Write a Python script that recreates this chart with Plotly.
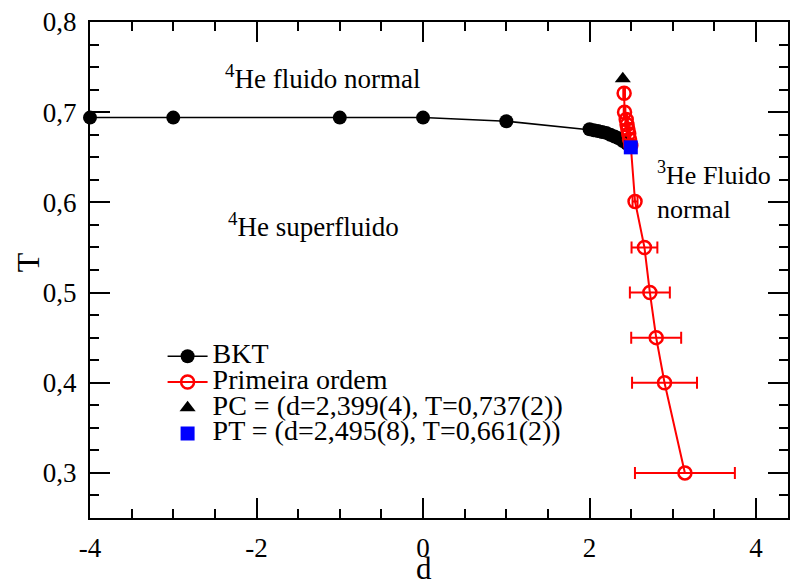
import plotly.graph_objects as go

# BKT line
bkt_d = [-4.0, -3.0, -1.0, 0.0, 1.0, 2.0, 2.05, 2.1, 2.15, 2.2, 2.25, 2.3, 2.35, 2.4, 2.45]
bkt_T = [0.694, 0.694, 0.694, 0.694, 0.690, 0.681, 0.680, 0.679, 0.678, 0.677, 0.675, 0.673, 0.671, 0.668, 0.665]

# First order line
fo_d = [2.415, 2.42, 2.44, 2.45, 2.46, 2.47, 2.48, 2.495, 2.546, 2.659, 2.724, 2.80, 2.90, 3.145]
fo_T = [0.721, 0.700, 0.692, 0.686, 0.681, 0.676, 0.670, 0.663, 0.601, 0.550, 0.500, 0.450, 0.400, 0.300]
fo_err = [0.01, 0.01, 0.01, 0.01, 0.01, 0.01, 0.01, 0.01, 0.03, 0.155, 0.24, 0.30, 0.39, 0.60]

# special points
pc_d, pc_T = [2.399], [0.737]
pt_d, pt_T = [2.495], [0.661]

x_ticks = [-4, -2, 0, 2, 4]
x_ticktext = ["-4", "-2", "0", "2", "4"]
y_ticks = [0.3, 0.4, 0.5, 0.6, 0.7, 0.8]
y_ticktext = ["0,3", "0,4", "0,5", "0,6", "0,7", "0,8"]

FONT = "Liberation Serif, Times New Roman, serif"
LEG = '<span style="font-size:28px">%s</span>'

fig = go.Figure()
fig.add_trace(go.Scatter(
    x=bkt_d, y=bkt_T, mode="lines+markers", name=LEG % "BKT",
    line=dict(color="black", width=1.5), cliponaxis=False,
    marker=dict(color="black", size=14, symbol="circle"),
))
fig.add_trace(go.Scatter(
    x=fo_d, y=fo_T, mode="lines+markers", name=LEG % "Primeira ordem",
    line=dict(color="red", width=2),
    marker=dict(color="red", size=13, symbol="circle-open", line=dict(color="red", width=2.5)),
    error_x=dict(type="data", array=fo_err, color="red", thickness=2, width=6),
))
fig.add_trace(go.Scatter(
    x=pc_d, y=pc_T, mode="markers", name=LEG % "PC = (d=2,399(4), T=0,737(2))",
    marker=dict(color="black", size=14, symbol="triangle-up"),
))
fig.add_trace(go.Scatter(
    x=pt_d, y=pt_T, mode="markers", name=LEG % "PT = (d=2,495(8), T=0,661(2))",
    marker=dict(color="#0000ff", size=14, symbol="square"),
))

axis_common = dict(
    showgrid=False, zeroline=False, showline=True, linecolor="black", linewidth=2,
    mirror="allticks", ticks="inside", ticklen=20, tickwidth=2, tickcolor="black",
    tickfont=dict(family=FONT, size=27, color="black"),
)
fig.update_xaxes(range=[-4, 4.383], tickvals=x_ticks, ticktext=x_ticktext, ticklabelstandoff=5,
                 minor=dict(dtick=0.5, ticks="inside", ticklen=9, tickwidth=2, tickcolor="black"),
                 **axis_common)
fig.update_yaxes(range=[0.25, 0.8], tickvals=y_ticks, ticktext=y_ticktext, ticklabelstandoff=6,
                 minor=dict(dtick=0.025, ticks="inside", ticklen=9, tickwidth=2, tickcolor="black"),
                 **axis_common)

annotations = [
    dict(text="<sup>4</sup>He fluido normal", x=-2.40, y=0.739, xanchor="left", yanchor="middle",
         showarrow=False, font=dict(family=FONT, size=27, color="black")),
    dict(text="<sup>4</sup>He superfluido", x=-2.37, y=0.575, xanchor="left", yanchor="middle",
         showarrow=False, font=dict(family=FONT, size=27, color="black")),
    dict(text="<sup>3</sup>He Fluido<br>normal", x=2.79, y=0.613, xanchor="left", yanchor="middle",
         align="left", showarrow=False, font=dict(family=FONT, size=26, color="black")),
    dict(text="T", xref="paper", yref="paper", x=-0.0886, y=0.516, textangle=-90,
         xanchor="center", yanchor="middle", showarrow=False,
         font=dict(family=FONT, size=32, color="black")),
    dict(text="d", xref="paper", yref="paper", x=0.479, y=-0.102, xanchor="center",
         yanchor="middle", showarrow=False, font=dict(family=FONT, size=31, color="black")),
]

fig.update_layout(
    width=790, height=584,
    margin=dict(l=90, r=0, t=22, b=66),
    paper_bgcolor="white", plot_bgcolor="white",
    font=dict(family=FONT, size=22, color="black"),
    showlegend=True,
    legend=dict(x=0.104, y=0.362, xanchor="left", yanchor="top",
                bgcolor="rgba(0,0,0,0)", font=dict(family=FONT, size=17.5, color="black"),
                tracegroupgap=0, itemwidth=40),
    annotations=annotations,
)

fig.write_html("out.html")
